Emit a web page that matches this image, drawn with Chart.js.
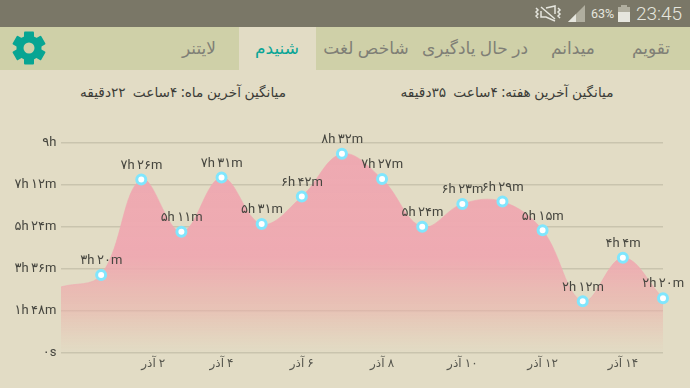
<!DOCTYPE html>
<html lang="fa">
<head>
<meta charset="utf-8">
<title>شنیدم</title>
<script src="https://cdn.jsdelivr.net/npm/chart.js@4/dist/chart.umd.min.js"></script>
<style>
html, body { margin: 0; padding: 0; }
body { width: 690px; height: 388px; overflow: hidden; background: #e2dcc5; position: relative; font-family: "Noto Sans", "DejaVu Sans", sans-serif; }
#status { position: absolute; left: 0; top: 0; width: 690px; height: 27px; background: #7a7767; }
#status span { position: absolute; color: #e6e6de; font-family: Roboto, sans-serif; }
#pct { left: 591px; top: 6px; font-size: 12.5px; }
#clock { left: 636px; top: 2px; font-size: 19px; font-weight: 300; }
#status svg { position: absolute; left: 535px; top: 0; }
#tabs { position: absolute; left: 0; top: 27px; width: 690px; height: 43px; background: #cfd0a8; }
#active { position: absolute; left: 239px; top: 0; width: 77px; height: 43px; background: #e2dcc5; }
.tab { position: absolute; top: 10px; transform: translateX(-50%); font-size: 17px; line-height: 22px; color: #7f7f76; direction: rtl; white-space: nowrap; }
.tab.on { color: #0aa596; }
#gear { position: absolute; left: 9px; top: 3px; }
.avg { position: absolute; top: 82px; transform: translateX(-50%); font-size: 13.7px; line-height: 20px; color: #3c3c38; direction: rtl; white-space: pre; }
#chart { position: absolute; left: 0; top: 70px; }
</style>
</head>
<body>
<div id="status">
  <svg width="100" height="27">
    <g fill="none" stroke="#e6e6de" stroke-width="1.5">
      <path d="M6 7 L20 19 M6 11 V17 H11 L20 21 M11 8 L20 6 V14"/>
      <path d="M1 8 l2 2 l-2 2 l2 2 l-2 2 l2 2 M23 8 l2 2 l-2 2 l2 2 l-2 2 l2 2"/>
    </g>
    <path d="M33 22 L50 22 V5 Z" fill="#b0ae9f"/>
    <path d="M33 22 L41 22 V14 Z" fill="#e6e6de"/>
    <rect x="83" y="7" width="12" height="15" fill="#b0ae9f"/>
    <rect x="86" y="5" width="6" height="2" fill="#b0ae9f"/>
    <rect x="83" y="12" width="12" height="10" fill="#e6e6de"/>
  </svg>
  <span id="pct">63%</span>
  <span id="clock">23:45</span>
</div>
<div id="tabs">
  <div id="active"></div>
  <svg id="gear" width="40" height="38" viewBox="0 0 40 38">
    <g fill="#07a593" transform="translate(20 18)">
      <circle r="12.5"/>
      <rect x="-5" y="-16.5" width="10" height="33" rx="1"/>
      <rect x="-5" y="-16.5" width="10" height="33" rx="1" transform="rotate(60)"/>
      <rect x="-5" y="-16.5" width="10" height="33" rx="1" transform="rotate(120)"/>
      <circle r="5.5" fill="#cfd0a8"/>
    </g>
  </svg>
  <div class="tab" style="left:199px">لایتنر</div>
  <div class="tab on" style="left:277px">شنیدم</div>
  <div class="tab" style="left:366px">شاخص لغت</div>
  <div class="tab" style="left:475px">در حال یادگیری</div>
  <div class="tab" style="left:573px">میدانم</div>
  <div class="tab" style="left:651px">تقویم</div>
</div>
<div class="avg" style="left:183px">میانگین آخرین ماه: ۴ساعت  ۲۲دقیقه</div>
<div class="avg" style="left:507px">میانگین آخرین هفته: ۴ساعت  ۳۵دقیقه</div>
<canvas id="chart" width="690" height="318"></canvas>
<script>
const days = ["", "", "۲ آذر", "", "۴ آذر", "", "۶ آذر", "", "۸ آذر", "", "۱۰ آذر", "", "۱۲ آذر", "", "۱۴ آذر", ""];
const minutes = [169, 200, 446, 311, 451, 331, 402, 512, 447, 324, 383, 389, 315, 132, 244, 140];
const pointLabels = ["", "۳h ۲۰m", "۷h ۲۶m", "۵h ۱۱m", "۷h ۳۱m", "۵h ۳۱m", "۶h ۴۲m", "۸h ۳۲m", "۷h ۲۷m", "۵h ۲۴m", "۶h ۲۳m", "۶h ۲۹m", "۵h ۱۵m", "۲h ۱۲m", "۴h ۴m", "۲h ۲۰m"];
const yTicks = { 0: "۰s", 108: "۱h ۴۸m", 216: "۳h ۳۶m", 324: "۵h ۲۴m", 432: "۷h ۱۲m", 540: "۹h" };

const labelFont = 'Roboto, "DejaVu Sans", sans-serif';

function areaFill(context) {
    const area = context.chart.chartArea;
    if (!area) return "#eea9b1";
    const g = context.chart.ctx.createLinearGradient(0, area.top, 0, area.bottom);
    g.addColorStop(0, "rgba(238,169,177,1)");
    g.addColorStop(0.55, "rgba(238,169,177,0.97)");
    g.addColorStop(0.8, "rgba(236,175,170,0.55)");
    g.addColorStop(1, "rgba(236,185,170,0)");
    return g;
}

// value captions and the day labels under the axis
const textPlugin = {
    id: "textPlugin",
    beforeDraw(chart) {
        chart.ctx.letterSpacing = "-0.4px";
    },
    afterDatasetsDraw(chart) {
        const ctx = chart.ctx;
        const pts = chart.getDatasetMeta(0).data;
        ctx.save();
        ctx.textAlign = "center";
        ctx.textBaseline = "middle";
        ctx.direction = "ltr";
        ctx.font = "13px " + labelFont;
        ctx.fillStyle = "#46463f";
        pts.forEach((p, i) => {
            if (pointLabels[i]) ctx.fillText(pointLabels[i], p.x, p.y - 14);
        });
        ctx.direction = "rtl";
        ctx.letterSpacing = "0px";
        ctx.font = '12px "Noto Sans", "DejaVu Sans", sans-serif';
        ctx.fillStyle = "#55554d";
        const xScale = chart.scales.x;
        days.forEach((d, i) => {
            if (!d) return;
            // the first date sits a little right of its point in the original
            const shift = i === 2 ? 12 : 0;
            ctx.fillText(d, xScale.getPixelForValue(i) + shift, 294);
        });
        ctx.restore();
    }
};

new Chart(document.getElementById("chart"), {
    type: "line",
    data: {
        labels: days,
        datasets: [{
            data: minutes,
            fill: true,
            tension: 0.38,
            backgroundColor: areaFill,
            borderColor: "rgba(238,169,177,0.6)",
            borderWidth: 1,
            pointRadius: ctx => ctx.dataIndex === 0 ? 0 : 4.5,
            pointBackgroundColor: "#ffffff",
            pointBorderColor: "#80e6fd",
            pointBorderWidth: 3
        }]
    },
    options: {
        responsive: false,
        animation: false,
        layout: { padding: { top: 73, right: 27, left: 0, bottom: 0 } },
        plugins: { legend: { display: false }, tooltip: { enabled: false } },
        scales: {
            x: {
                grid: { display: false },
                border: { display: false },
                ticks: { display: false },
                afterFit(scale) { scale.height = 35.5; }
            },
            y: {
                min: 0,
                max: 540,
                grid: { color: "#c9c4ae", lineWidth: 1.5, drawTicks: false },
                border: { display: false },
                afterBuildTicks(scale) {
                    scale.ticks = Object.keys(yTicks).map(v => ({ value: Number(v) }));
                },
                ticks: {
                    padding: 5,
                    color: "#46463f",
                    font: { family: labelFont, size: 13 },
                    callback: value => yTicks[value]
                },
                afterFit(scale) { scale.width = 61; }
            }
        }
    },
    plugins: [textPlugin]
});
</script>
</body>
</html>
